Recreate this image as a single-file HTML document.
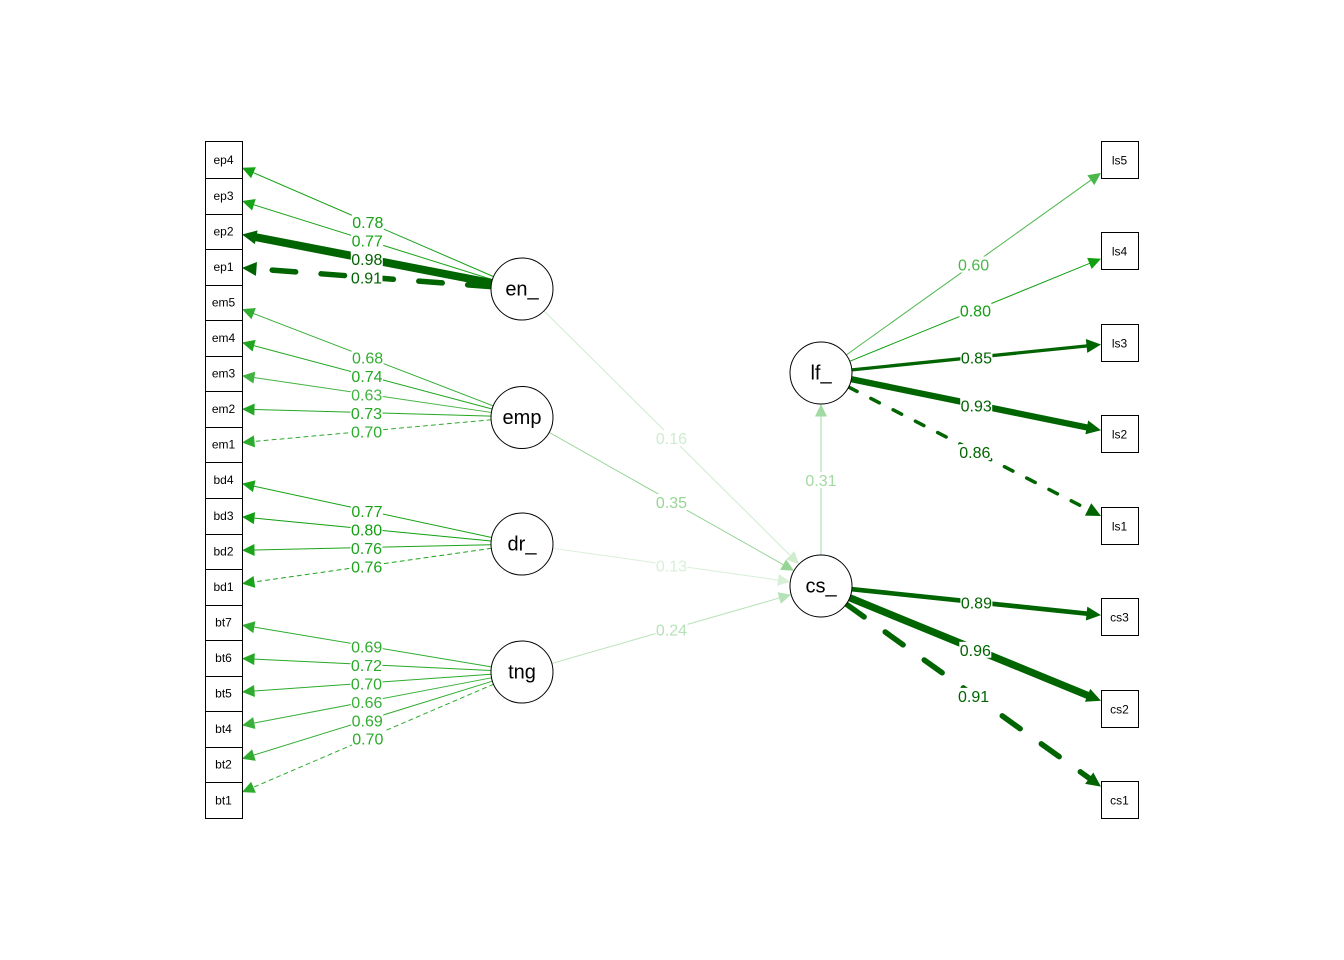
<!DOCTYPE html>
<html><head><meta charset="utf-8"><style>html,body{margin:0;padding:0;background:#fff}svg{display:block}</style></head>
<body>
<svg width="1344" height="960" viewBox="0 0 1344 960" xmlns="http://www.w3.org/2000/svg">
<defs>
<marker id="m15" markerUnits="userSpaceOnUse" markerWidth="20" markerHeight="20" refX="0" refY="0" orient="auto" style="overflow:visible"><path d="M0,-6L12.5,0L0,6Z" fill="#15a115"/></marker>
<marker id="m18" markerUnits="userSpaceOnUse" markerWidth="20" markerHeight="20" refX="0" refY="0" orient="auto" style="overflow:visible"><path d="M0,-6L12.5,0L0,6Z" fill="#18a318"/></marker>
<marker id="m33" markerUnits="userSpaceOnUse" markerWidth="20" markerHeight="20" refX="0" refY="0" orient="auto" style="overflow:visible"><path d="M0,-6L12.5,0L0,6Z" fill="#33ad33"/></marker>
<marker id="m21" markerUnits="userSpaceOnUse" markerWidth="20" markerHeight="20" refX="0" refY="0" orient="auto" style="overflow:visible"><path d="M0,-6L12.5,0L0,6Z" fill="#21a621"/></marker>
<marker id="m42" markerUnits="userSpaceOnUse" markerWidth="20" markerHeight="20" refX="0" refY="0" orient="auto" style="overflow:visible"><path d="M0,-6L12.5,0L0,6Z" fill="#42b342"/></marker>
<marker id="m24" markerUnits="userSpaceOnUse" markerWidth="20" markerHeight="20" refX="0" refY="0" orient="auto" style="overflow:visible"><path d="M0,-6L12.5,0L0,6Z" fill="#24a724"/></marker>
<marker id="m2d" markerUnits="userSpaceOnUse" markerWidth="20" markerHeight="20" refX="0" refY="0" orient="auto" style="overflow:visible"><path d="M0,-6L12.5,0L0,6Z" fill="#2dab2d"/></marker>
<marker id="m0f" markerUnits="userSpaceOnUse" markerWidth="20" markerHeight="20" refX="0" refY="0" orient="auto" style="overflow:visible"><path d="M0,-6L12.5,0L0,6Z" fill="#0f9f0f"/></marker>
<marker id="m1b" markerUnits="userSpaceOnUse" markerWidth="20" markerHeight="20" refX="0" refY="0" orient="auto" style="overflow:visible"><path d="M0,-6L12.5,0L0,6Z" fill="#1ba41b"/></marker>
<marker id="m30" markerUnits="userSpaceOnUse" markerWidth="20" markerHeight="20" refX="0" refY="0" orient="auto" style="overflow:visible"><path d="M0,-6L12.5,0L0,6Z" fill="#30ac30"/></marker>
<marker id="m27" markerUnits="userSpaceOnUse" markerWidth="20" markerHeight="20" refX="0" refY="0" orient="auto" style="overflow:visible"><path d="M0,-6L12.5,0L0,6Z" fill="#27a927"/></marker>
<marker id="m39" markerUnits="userSpaceOnUse" markerWidth="20" markerHeight="20" refX="0" refY="0" orient="auto" style="overflow:visible"><path d="M0,-6L12.5,0L0,6Z" fill="#39b039"/></marker>
<marker id="m4b" markerUnits="userSpaceOnUse" markerWidth="20" markerHeight="20" refX="0" refY="0" orient="auto" style="overflow:visible"><path d="M0,-6L12.5,0L0,6Z" fill="#4bb74b"/></marker>
<marker id="mcf" markerUnits="userSpaceOnUse" markerWidth="20" markerHeight="20" refX="0" refY="0" orient="auto" style="overflow:visible"><path d="M0,-6L12.5,0L0,6Z" fill="#cfeccf"/></marker>
<marker id="m96" markerUnits="userSpaceOnUse" markerWidth="20" markerHeight="20" refX="0" refY="0" orient="auto" style="overflow:visible"><path d="M0,-6L12.5,0L0,6Z" fill="#96d596"/></marker>
<marker id="md8" markerUnits="userSpaceOnUse" markerWidth="20" markerHeight="20" refX="0" refY="0" orient="auto" style="overflow:visible"><path d="M0,-6L12.5,0L0,6Z" fill="#d8efd8"/></marker>
<marker id="mb7" markerUnits="userSpaceOnUse" markerWidth="20" markerHeight="20" refX="0" refY="0" orient="auto" style="overflow:visible"><path d="M0,-6L12.5,0L0,6Z" fill="#b7e2b7"/></marker>
<marker id="ma2" markerUnits="userSpaceOnUse" markerWidth="20" markerHeight="20" refX="0" refY="0" orient="auto" style="overflow:visible"><path d="M0,-6L12.5,0L0,6Z" fill="#a2daa2"/></marker>
<marker id="mdg" markerUnits="userSpaceOnUse" markerWidth="20" markerHeight="20" refX="0" refY="0" orient="auto" style="overflow:visible"><path d="M-2,-7L12.5,0L-2,7Z" fill="#006400"/></marker>
</defs>

<g fill="none" stroke-linecap="round">
<!-- en_ -->
<line x1="493.59" y1="276.61" x2="253.46" y2="172.7" stroke="#15a115" stroke-width="1" marker-end="url(#m15)"/>
<line x1="492.45" y1="279.63" x2="253.92" y2="204.8" stroke="#18a318" stroke-width="1" marker-end="url(#m18)"/>
<line x1="491.59" y1="283.0" x2="254.26" y2="236.9" stroke="#006400" stroke-width="8" marker-end="url(#mdg)"/>
<line x1="491.09" y1="286.59" x2="254.46" y2="268.8" stroke="#006400" stroke-width="5.5" stroke-dasharray="23.5 25.5" marker-end="url(#mdg)"/>
<!-- emp -->
<line x1="493.1" y1="405.8" x2="253.66" y2="313.6" stroke="#33ad33" stroke-width="1" marker-end="url(#m33)"/>
<line x1="492.06" y1="408.96" x2="254.07" y2="345.7" stroke="#21a621" stroke-width="1" marker-end="url(#m21)"/>
<line x1="491.34" y1="412.44" x2="254.36" y2="377.6" stroke="#42b342" stroke-width="1" marker-end="url(#m42)"/>
<line x1="491.01" y1="416.09" x2="254.49" y2="409.5" stroke="#24a724" stroke-width="1" marker-end="url(#m24)"/>
<line x1="491.12" y1="419.77" x2="254.45" y2="441.4" stroke="#2dab2d" stroke-width="1" stroke-dasharray="4 4" marker-end="url(#m2d)"/>
<!-- dr_ -->
<line x1="491.70" y1="537.45" x2="254.22" y2="486.3" stroke="#18a318" stroke-width="1" marker-end="url(#m18)"/>
<line x1="491.14" y1="541.01" x2="254.44" y2="518.1" stroke="#0f9f0f" stroke-width="1" marker-end="url(#m0f)"/>
<line x1="491.0" y1="544.7" x2="254.5" y2="550.0" stroke="#1ba41b" stroke-width="1" marker-end="url(#m1b)"/>
<line x1="491.31" y1="548.35" x2="254.38" y2="581.93" stroke="#1ba41b" stroke-width="1" stroke-dasharray="4 4" marker-end="url(#m1b)"/>
<!-- tng -->
<line x1="491.42" y1="666.88" x2="254.33" y2="627.16" stroke="#30ac30" stroke-width="1" marker-end="url(#m30)"/>
<line x1="491.04" y1="670.51" x2="254.49" y2="659.09" stroke="#27a927" stroke-width="1" marker-end="url(#m27)"/>
<line x1="491.08" y1="674.19" x2="254.47" y2="691.0" stroke="#2dab2d" stroke-width="1" marker-end="url(#m2d)"/>
<line x1="491.55" y1="677.81" x2="254.28" y2="723.03" stroke="#39b039" stroke-width="1" marker-end="url(#m39)"/>
<line x1="492.39" y1="681.18" x2="253.94" y2="755.07" stroke="#30ac30" stroke-width="1" marker-end="url(#m30)"/>
<line x1="493.51" y1="684.23" x2="253.49" y2="787.23" stroke="#2dab2d" stroke-width="1" stroke-dasharray="4 4" marker-end="url(#m2d)"/>
<!-- lf_ -->
<line x1="846.22" y1="354.98" x2="1090.83" y2="180.19" stroke="#4bb74b" stroke-width="1" marker-end="url(#m4b)"/>
<line x1="849.70" y1="361.29" x2="1089.43" y2="263.47" stroke="#0f9f0f" stroke-width="1" marker-end="url(#m0f)"/>
<line x1="851.84" y1="369.86" x2="1088.56" y2="345.75" stroke="#006400" stroke-width="3.3" marker-end="url(#mdg)"/>
<line x1="851.37" y1="379.22" x2="1088.75" y2="427.80" stroke="#006400" stroke-width="6.3" marker-end="url(#mdg)"/>
<line x1="848.61" y1="387.1" x2="1089.87" y2="510.36" stroke="#006400" stroke-width="3.5" stroke-dasharray="9.5 15.5" marker-end="url(#mdg)"/>
<!-- cs_ -->
<line x1="851.83" y1="589.2" x2="1088.57" y2="613.79" stroke="#006400" stroke-width="4.7" marker-end="url(#mdg)"/>
<line x1="849.68" y1="597.76" x2="1089.43" y2="696.07" stroke="#006400" stroke-width="7.3" marker-end="url(#mdg)"/>
<line x1="846.2" y1="604.06" x2="1090.84" y2="779.36" stroke="#006400" stroke-width="5.5" stroke-dasharray="22 26" marker-end="url(#mdg)"/>
<!-- structural -->
<line x1="544" y1="310.85" x2="790.13" y2="555.34" stroke="#cfeccf" stroke-width="1" marker-end="url(#mcf)"/>
<line x1="548.99" y1="432.25" x2="783.13" y2="564.6" stroke="#96d596" stroke-width="1" marker-end="url(#m96)"/>
<line x1="552.7" y1="548.31" x2="777.92" y2="579.95" stroke="#d8efd8" stroke-width="1" marker-end="url(#md8)"/>
<line x1="551.79" y1="663.43" x2="779.2" y2="598.03" stroke="#b7e2b7" stroke-width="1" marker-end="url(#mb7)"/>
<line x1="821" y1="555" x2="821" y2="416.5" stroke="#a2daa2" stroke-width="1" marker-end="url(#ma2)"/>
</g>

<!-- edge labels -->
<g font-family="Liberation Sans, Arial, sans-serif" font-size="16" text-anchor="middle">
<rect x="351.8" y="214" width="32" height="16" fill="#fff"/><text x="367.8" y="228" fill="#15a115">0.78</text>
<rect x="351.2" y="232.5" width="32" height="16" fill="#fff"/><text x="367.2" y="246.5" fill="#18a318">0.77</text>
<rect x="350.8" y="251" width="32" height="16" fill="#fff"/><text x="366.8" y="265" fill="#006400">0.98</text>
<rect x="350.5" y="269.5" width="32" height="16" fill="#fff"/><text x="366.5" y="283.5" fill="#006400">0.91</text>

<rect x="351.6" y="349.6" width="32" height="16" fill="#fff"/><text x="367.6" y="363.6" fill="#33ad33">0.68</text>
<rect x="351.0" y="368" width="32" height="16" fill="#fff"/><text x="367.0" y="382" fill="#21a621">0.74</text>
<rect x="350.7" y="386.4" width="32" height="16" fill="#fff"/><text x="366.7" y="400.4" fill="#42b342">0.63</text>
<rect x="350.5" y="405" width="32" height="16" fill="#fff"/><text x="366.5" y="419" fill="#24a724">0.73</text>
<rect x="350.6" y="423.5" width="32" height="16" fill="#fff"/><text x="366.6" y="437.5" fill="#2dab2d">0.70</text>

<rect x="350.9" y="503" width="32" height="16" fill="#fff"/><text x="366.9" y="517" fill="#18a318">0.77</text>
<rect x="350.6" y="521.5" width="32" height="16" fill="#fff"/><text x="366.6" y="535.5" fill="#0f9f0f">0.80</text>
<rect x="350.5" y="540" width="32" height="16" fill="#fff"/><text x="366.5" y="554" fill="#1ba41b">0.76</text>
<rect x="350.7" y="558.5" width="32" height="16" fill="#fff"/><text x="366.7" y="572.5" fill="#1ba41b">0.76</text>

<rect x="350.7" y="638.5" width="32" height="16" fill="#fff"/><text x="366.7" y="652.5" fill="#30ac30">0.69</text>
<rect x="350.5" y="657" width="32" height="16" fill="#fff"/><text x="366.5" y="671" fill="#27a927">0.72</text>
<rect x="350.5" y="675.5" width="32" height="16" fill="#fff"/><text x="366.5" y="689.5" fill="#2dab2d">0.70</text>
<rect x="350.8" y="694" width="32" height="16" fill="#fff"/><text x="366.8" y="708" fill="#39b039">0.66</text>
<rect x="351.2" y="712.5" width="32" height="16" fill="#fff"/><text x="367.2" y="726.5" fill="#30ac30">0.69</text>
<rect x="351.8" y="730.7" width="32" height="16" fill="#fff"/><text x="367.8" y="744.7" fill="#2dab2d">0.70</text>

<rect x="957.6" y="256.5" width="32" height="16" fill="#fff"/><text x="973.6" y="270.5" fill="#4bb74b">0.60</text>
<rect x="959.4" y="302.5" width="32" height="16" fill="#fff"/><text x="975.4" y="316.5" fill="#0f9f0f">0.80</text>
<rect x="960.4" y="349.7" width="32" height="16" fill="#fff"/><text x="976.4" y="363.7" fill="#006400">0.85</text>
<rect x="960.2" y="397.3" width="32" height="16" fill="#fff"/><text x="976.2" y="411.3" fill="#006400">0.93</text>
<rect x="958.8" y="444.1" width="32" height="16" fill="#fff"/><text x="974.8" y="458.1" fill="#006400">0.86</text>

<rect x="960.4" y="594.6" width="32" height="16" fill="#fff"/><text x="976.4" y="608.6" fill="#006400">0.89</text>
<rect x="959.3" y="641.8" width="32" height="16" fill="#fff"/><text x="975.3" y="655.8" fill="#006400">0.96</text>
<rect x="957.6" y="687.9" width="32" height="16" fill="#fff"/><text x="973.6" y="701.9" fill="#006400">0.91</text>

<rect x="655.5" y="430" width="32" height="16" fill="#fff"/><text x="671.5" y="444" fill="#cfeccf">0.16</text>
<rect x="655.5" y="494" width="32" height="16" fill="#fff"/><text x="671.5" y="508" fill="#96d596">0.35</text>
<rect x="655.5" y="557.5" width="32" height="16" fill="#fff"/><text x="671.5" y="571.5" fill="#d8efd8">0.13</text>
<rect x="655.5" y="621.5" width="32" height="16" fill="#fff"/><text x="671.5" y="635.5" fill="#b7e2b7">0.24</text>
<rect x="805" y="472" width="32" height="16" fill="#fff"/><text x="821" y="486" fill="#a2daa2">0.31</text>
</g>

<!-- latent nodes -->
<g fill="#fff" stroke="#000" stroke-width="1">
<circle cx="522" cy="289" r="31"/>
<circle cx="522" cy="417.5" r="31"/>
<circle cx="522" cy="544" r="31"/>
<circle cx="522" cy="672" r="31"/>
<circle cx="821" cy="373" r="31"/>
<circle cx="821" cy="586" r="31"/>
</g>
<g font-family="Liberation Sans, Arial, sans-serif" font-size="20" text-anchor="middle" fill="#000">
<text x="522" y="295.5">en_</text>
<text x="522" y="424">emp</text>
<text x="522" y="550.5">dr_</text>
<text x="522" y="678.5">tng</text>
<text x="821" y="379.5">lf_</text>
<text x="821" y="592.5">cs_</text>
</g>

<!-- left boxes -->
<g fill="#fff" stroke="#000" stroke-width="1">
<rect x="205.5" y="141.5" width="37" height="677"/>
</g>
<g stroke="#000" stroke-width="1">
<line x1="205.5" y1="178.5" x2="242.5" y2="178.5"/>
<line x1="205.5" y1="214.5" x2="242.5" y2="214.5"/>
<line x1="205.5" y1="249.5" x2="242.5" y2="249.5"/>
<line x1="205.5" y1="285.5" x2="242.5" y2="285.5"/>
<line x1="205.5" y1="320.5" x2="242.5" y2="320.5"/>
<line x1="205.5" y1="356.5" x2="242.5" y2="356.5"/>
<line x1="205.5" y1="391.5" x2="242.5" y2="391.5"/>
<line x1="205.5" y1="427.5" x2="242.5" y2="427.5"/>
<line x1="205.5" y1="462.5" x2="242.5" y2="462.5"/>
<line x1="205.5" y1="498.5" x2="242.5" y2="498.5"/>
<line x1="205.5" y1="534.5" x2="242.5" y2="534.5"/>
<line x1="205.5" y1="569.5" x2="242.5" y2="569.5"/>
<line x1="205.5" y1="605.5" x2="242.5" y2="605.5"/>
<line x1="205.5" y1="640.5" x2="242.5" y2="640.5"/>
<line x1="205.5" y1="676.5" x2="242.5" y2="676.5"/>
<line x1="205.5" y1="711.5" x2="242.5" y2="711.5"/>
<line x1="205.5" y1="747.5" x2="242.5" y2="747.5"/>
<line x1="205.5" y1="782.5" x2="242.5" y2="782.5"/>
</g>
<g font-family="Liberation Sans, Arial, sans-serif" font-size="12" text-anchor="middle" fill="#000">
<text x="223.5" y="164.2">ep4</text>
<text x="223.5" y="199.8">ep3</text>
<text x="223.5" y="235.3">ep2</text>
<text x="223.5" y="270.9">ep1</text>
<text x="223.5" y="306.4">em5</text>
<text x="223.5" y="342">em4</text>
<text x="223.5" y="377.6">em3</text>
<text x="223.5" y="413.1">em2</text>
<text x="223.5" y="448.7">em1</text>
<text x="223.5" y="484.2">bd4</text>
<text x="223.5" y="519.8">bd3</text>
<text x="223.5" y="555.4">bd2</text>
<text x="223.5" y="590.9">bd1</text>
<text x="223.5" y="626.5">bt7</text>
<text x="223.5" y="662">bt6</text>
<text x="223.5" y="697.6">bt5</text>
<text x="223.5" y="733.2">bt4</text>
<text x="223.5" y="768.7">bt2</text>
<text x="223.5" y="804.3">bt1</text>
</g>

<!-- right boxes -->
<g fill="#fff" stroke="#000" stroke-width="1">
<rect x="1101.5" y="141.5" width="37" height="37"/>
<rect x="1101.5" y="232.5" width="37" height="37"/>
<rect x="1101.5" y="324.5" width="37" height="37"/>
<rect x="1101.5" y="415.5" width="37" height="37"/>
<rect x="1101.5" y="507.5" width="37" height="37"/>
<rect x="1101.5" y="598.5" width="37" height="37"/>
<rect x="1101.5" y="690.5" width="37" height="37"/>
<rect x="1101.5" y="781.5" width="37" height="37"/>
</g>
<g font-family="Liberation Sans, Arial, sans-serif" font-size="12" text-anchor="middle" fill="#000">
<text x="1119.5" y="164.5">ls5</text>
<text x="1119.5" y="255.5">ls4</text>
<text x="1119.5" y="347.5">ls3</text>
<text x="1119.5" y="438.5">ls2</text>
<text x="1119.5" y="530.5">ls1</text>
<text x="1119.5" y="621.5">cs3</text>
<text x="1119.5" y="713.5">cs2</text>
<text x="1119.5" y="804.5">cs1</text>
</g>
</svg>
</body></html>
